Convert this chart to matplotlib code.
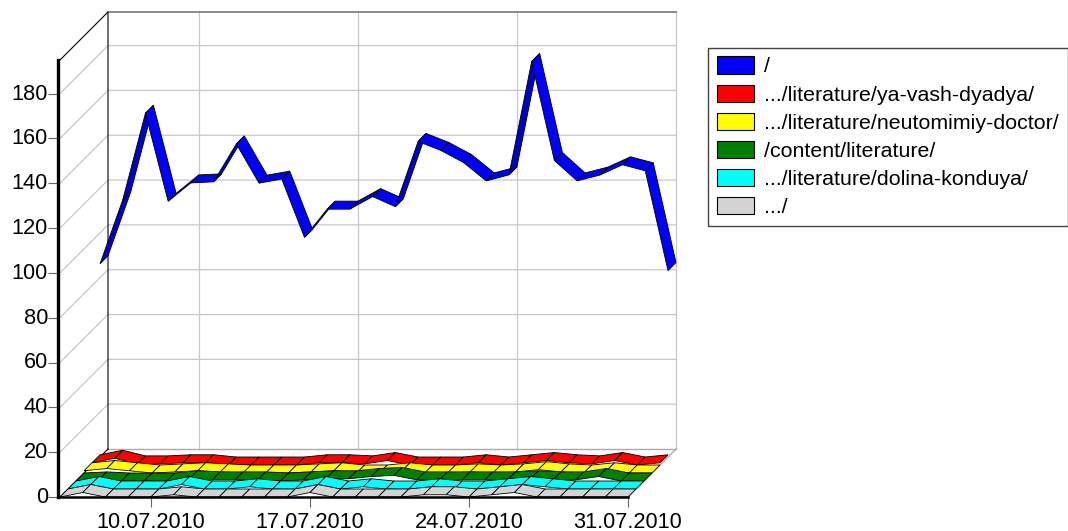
import matplotlib
matplotlib.use("Agg")
import matplotlib.pyplot as plt
from matplotlib.patches import Patch, Polygon
from matplotlib.transforms import ScaledTranslation

plt.rcParams['font.family'] = ['Liberation Sans', 'DejaVu Sans']

# Data
dates = ['10.07.2010', '17.07.2010', '24.07.2010', '31.07.2010']
date_idx = [4, 11, 18, 25]
yticks = [0, 20, 40, 60, 80, 100, 120, 140, 160, 180]
root = [86.2, 114.7, 153.4, 114.1, 122.3, 122.8, 139.7, 122.2, 124, 98, 110.6, 110.6, 116.2,
        111.7, 140.8, 136.8, 131.4, 123.2, 125.9, 176.5, 132.3, 123.2, 125.8, 130.4, 127.7, 83.2]
vash = [1, 3, 0.5, 0.5, 1, 1, 0, 0, 0, 0, 1, 1, 0.5, 2, 0, 0, 0, 1, 0, 1, 2, 1, 0.5, 2, 0, 1]
doctor = [1, 2, 1, 0, 0.5, 1, 0.5, 0, 0, 0, 0.5, 1, 0, 0, 1, 0, 0, 0.5, 0, 0.5, 1.5, 0.5, 0, 1, 0, 0]
content = [0, 0.5, 0, 0, 0, 1, 0.5, 0.5, 0.5, 0, 0.5, 1, 1, 2, 2.5, 0.5, 0.5, 0.5, 0.5, 0.5, 1, 0.5, 0.5, 2, 0, 0]
dolina = [0, 2, 0, 0, 0, 2, 0, 0, 1, 0, 0, 2, 0, 1, 0, 0, 1, 0, 0, 1, 2, 1, 0, 0, 0, 0]
other = [0, 2, 0, 0, 0, 1, 0, 0, 0, 0, 0, 2, 0, 0, 0, 0, 1, 1, 0, 1, 2, 0, 0, 0, 0, 0]

names = ['/', '.../literature/ya-vash-dyadya/', '.../literature/neutomimiy-doctor/',
         '/content/literature/', '.../literature/dolina-konduya/', '.../']
series = [root, vash, doctor, content, dolina, other]
colors = ['#0000ff', '#ff0000', '#ffff00', '#008000', '#00ffff', '#d3d3d3']
dark = ['#0000cc', '#ff0000', '#ffff00', '#008000', '#00ffff', '#d3d3d3']

W, H = 1068, 531
L, B, PW, PH = 60, 497, 568, 437
N_DAYS = 25
YMAX = 195
SLOT_PX = 8
FS_TICK = 15.7
FS_LEG = 15.4


def shift(x, y, slots):
    """Oblique projection: move a data point back by a number of depth slots."""
    return (x + slots * SLOT_PX * N_DAYS / PW, y + slots * SLOT_PX * YMAX / PH)


fig = plt.figure(figsize=(W / 100, H / 100), dpi=100, facecolor='white')
ax = fig.add_axes([L / W, (H - B) / H, PW / W, PH / H])
ax.set_xlim(0, N_DAYS)
ax.set_ylim(0, YMAX)
ax.patch.set_visible(False)

GRID = '#c8c8c8'
# side wall and back wall grid
for v in yticks[1:]:
    p0 = shift(0, v, 0)
    p1 = shift(0, v, 6)
    p2 = shift(N_DAYS, v, 6)
    ax.plot([p0[0], p1[0], p2[0]], [p0[1], p1[1], p2[1]], color=GRID, lw=0.9, clip_on=False, zorder=1)
for d in date_idx:
    p1 = shift(d, 0, 6)
    p2 = shift(d, YMAX, 6)
    ax.plot([p1[0], p2[0]], [p1[1], p2[1]], color=GRID, lw=0.9, clip_on=False, zorder=1)
# floor edges
a, b = shift(0, 0, 6), shift(N_DAYS, 0, 6)
ax.plot([a[0], b[0]], [a[1], b[1]], color='#aaaaaa', lw=1.0, clip_on=False, zorder=1)
ax.plot([N_DAYS, b[0]], [0, b[1]], color='#aaaaaa', lw=1.0, clip_on=False, zorder=1)
# top and back-left edges
t0, t1, t2 = shift(0, YMAX, 0), shift(0, YMAX, 6), shift(N_DAYS, YMAX, 6)
ax.plot([t1[0], t2[0]], [t1[1], t2[1]], color='#808080', lw=1.3, clip_on=False, zorder=1)
ax.plot([t0[0], t1[0], a[0]], [t0[1], t1[1], a[1]], color='black', lw=0.8, clip_on=False, zorder=1.5)
ax.plot([a[0], 0], [a[1], 0], color='black', lw=0.8, clip_on=False, zorder=1.5)

# ribbons, back to front
z = 2.0
for k, vals in enumerate(series):
    s0 = 5 - k
    for i in range(len(vals) - 1):
        pts = [shift(i, vals[i], s0), shift(i + 1, vals[i + 1], s0),
               shift(i + 1, vals[i + 1], s0 + 1), shift(i, vals[i], s0 + 1)]
        rising = vals[i + 1] - vals[i] > 12
        ax.add_patch(Polygon(pts, closed=True, facecolor=dark[k] if rising else colors[k],
                             edgecolor='black', lw=0.6, clip_on=False, zorder=z))
        z += 0.001

for side in ['top', 'right']:
    ax.spines[side].set_visible(False)
ax.spines['left'].set_linewidth(2.4)
ax.spines['left'].set_position(('outward', 1.1))
ax.spines['bottom'].set_linewidth(1.8)
ax.spines['bottom'].set_bounds(-0.08, N_DAYS)
ax.spines['left'].set_zorder(10)
ax.spines['bottom'].set_zorder(10)
ax.set_xticks(date_idx, dates)
ax.set_yticks(yticks)
ax.tick_params(axis='x', length=7, width=0.8, color='#666666', labelsize=FS_TICK, pad=3.5)
ax.tick_params(axis='y', length=7, width=0.8, color='#666666', labelsize=FS_TICK, pad=0.5)
up = ScaledTranslation(0, 1.5 / 72, fig.dpi_scale_trans)
for lab in ax.get_yticklabels():
    lab.set_transform(lab.get_transform() + up)

handles = [Patch(facecolor=c, edgecolor='black', lw=0.8) for c in colors]
fig.legend(handles, names, loc='upper left', bbox_to_anchor=(708 / W, 1 - 47.5 / H),
           borderaxespad=0, fontsize=FS_LEG, frameon=True, fancybox=False, framealpha=1,
           edgecolor='#444444', handlelength=1.73, handleheight=0.86, handletextpad=0.46,
           labelspacing=0.38, borderpad=0.42)

fig.savefig('out.png', dpi=100, facecolor='white')
